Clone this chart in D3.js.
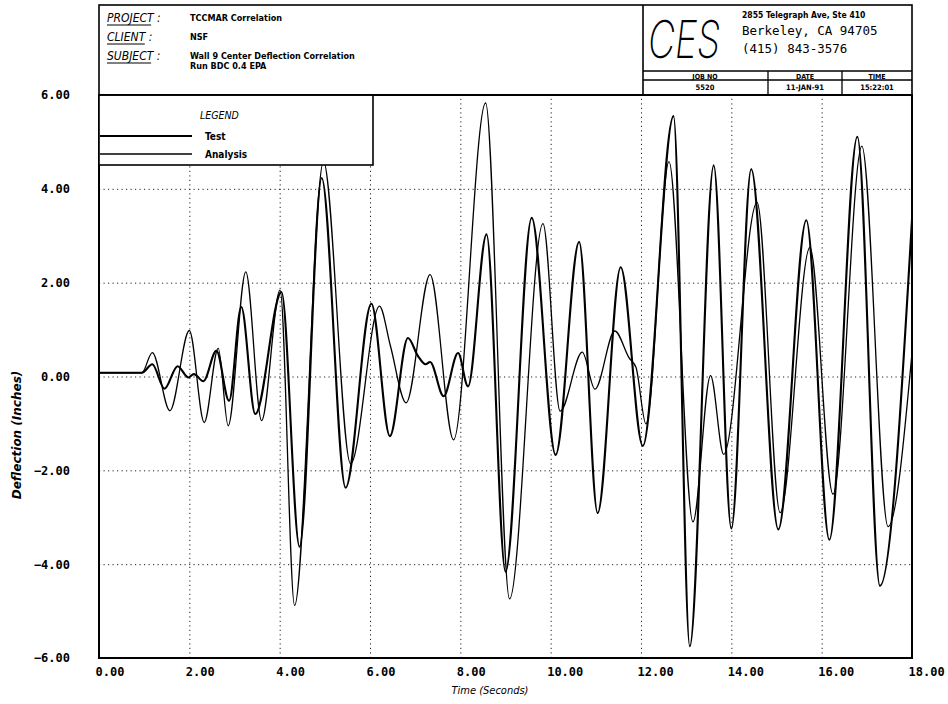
<!DOCTYPE html>
<html>
<head>
<meta charset="utf-8">
<title>Wall 9 Center Deflection Correlation</title>
<script src="https://d3js.org/d3.v7.min.js"></script>
<style>
  body { margin: 0; background: #fff; }
  svg { display: block; }
  text { fill: #000; }
</style>
</head>
<body>
<div id="chart"></div>
<script>
// values (extrema of each trace)
var testTime = [0, 0.95, 1.18, 1.45, 1.74, 1.98, 2.1, 2.31, 2.6, 2.88, 3.15, 3.46, 4.04, 4.44, 4.93,
  5.46, 6.03, 6.44, 6.84, 7.06, 7.23, 7.33, 7.63, 7.95, 8.17, 8.58, 9.0, 9.58, 10.11, 10.63, 11.04,
  11.55, 12.04, 12.72, 13.08, 13.61, 14.0, 14.44, 15.04, 15.66, 16.17, 16.79, 17.29, 18.0];
var testDeflection = [0.08, 0.08, 0.26, -0.26, 0.22, -0.02, 0.05, -0.1, 0.55, -0.52, 1.48, -0.8, 1.8, -3.63, 4.23,
  -2.37, 1.55, -1.27, 0.82, 0.44, 0.26, 0.31, -0.42, 0.5, -0.21, 3.03, -4.16, 3.38, -1.67, 2.87, -2.91,
  2.33, -1.48, 5.55, -5.75, 4.5, -3.24, 4.42, -3.26, 3.33, -3.48, 5.11, -4.46, 3.35];

var analysisTime = [0, 0.95, 1.18, 1.57, 2.0, 2.33, 2.64, 2.86, 3.25, 3.6, 4.01, 4.33, 4.97, 5.57, 6.21,
  6.45, 6.8, 7.33, 7.85, 8.56, 9.09, 9.83, 10.21, 10.7, 10.98, 11.42, 11.74, 11.89, 12.11, 12.62,
  13.15, 13.54, 13.83, 14.57, 15.08, 15.74, 16.25, 16.89, 17.47, 18.0];
var analysisDeflection = [0.08, 0.08, 0.51, -0.73, 0.98, -0.98, 0.6, -1.05, 2.23, -0.94, 1.84, -4.88, 4.58, -1.86, 1.5,
  0.66, -0.56, 2.17, -1.35, 5.83, -4.74, 3.26, -0.74, 0.52, -0.27, 0.97, 0.39, 0.19, -1.01, 4.58,
  -3.1, 0.02, -1.66, 3.71, -2.9, 2.75, -2.51, 4.91, -3.2, 0.5];

var xTicks = [0, 2, 4, 6, 8, 10, 12, 14, 16, 18];
var yTicks = [-6, -4, -2, 0, 2, 4, 6];

var W = 948, H = 704;
var margin = {top: 95, right: 36, bottom: 46, left: 99};
var width = W - margin.left - margin.right;
var height = H - margin.top - margin.bottom;

var monoFont = '"DejaVu Sans Mono", monospace';
var sansFont = '"DejaVu Sans Condensed", "DejaVu Sans", sans-serif';

var svg = d3.select('#chart').append('svg')
  .attr('width', W)
  .attr('height', H)
  .style('background', '#fff');

var xScale = d3.scaleLinear().domain([0, 18]).range([0, width]);
var yScale = d3.scaleLinear().domain([-6, 6]).range([height, 0]);

var plot = svg.append('g')
  .attr('transform', 'translate(' + margin.left + ',' + margin.top + ')');

// dotted grid
var xGrid = plot.append('g')
  .attr('transform', 'translate(0,' + height + ')')
  .call(d3.axisBottom(xScale).tickValues(xTicks.slice(1, -1)).tickSize(-height).tickFormat(''));
var yGrid = plot.append('g')
  .call(d3.axisLeft(yScale).tickValues(yTicks.slice(1, -1)).tickSize(-width).tickFormat(''));
[xGrid, yGrid].forEach(function(g) {
  g.select('.domain').remove();
  g.selectAll('line')
    .style('stroke', '#222')
    .style('stroke-width', 1)
    .style('stroke-dasharray', '1.2,3.3');
});

// curves
var toPoints = function(ts, vs) {
  return ts.map(function(t, i) { return [t, vs[i]]; });
};
var line = d3.line()
  .x(function(d) { return xScale(d[0]); })
  .y(function(d) { return yScale(d[1]); })
  .curve(d3.curveMonotoneX);

plot.append('path')
  .datum(toPoints(analysisTime, analysisDeflection))
  .attr('d', line)
  .style('fill', 'none')
  .style('stroke', '#000')
  .style('stroke-width', 1.3);

plot.append('path')
  .datum(toPoints(testTime, testDeflection))
  .attr('d', line)
  .style('fill', 'none')
  .style('stroke', '#000')
  .style('stroke-width', 2.1);

// frame
plot.append('rect')
  .attr('width', width)
  .attr('height', height)
  .style('fill', 'none')
  .style('stroke', '#000')
  .style('stroke-width', 2);

// tick labels
var yAxis = plot.append('g')
  .call(d3.axisLeft(yScale).tickValues(yTicks).tickSize(0).tickPadding(29).tickFormat(d3.format('.2f')));
yAxis.select('.domain').remove();
yAxis.selectAll('text')
  .style('font-family', monoFont)
  .style('font-weight', 'bold')
  .style('font-size', '12px');

var xAxis = plot.append('g')
  .attr('transform', 'translate(0,' + height + ')')
  .call(d3.axisBottom(xScale).tickValues(xTicks).tickSize(0).tickPadding(9).tickFormat(d3.format('.2f')));
xAxis.select('.domain').remove();
xAxis.selectAll('text')
  .attr('text-anchor', 'start')
  .attr('dx', -4)
  .style('font-family', monoFont)
  .style('font-weight', 'bold')
  .style('font-size', '12px');

// axis titles
svg.append('text')
  .attr('transform', 'translate(21,435) rotate(-90)')
  .attr('text-anchor', 'middle')
  .style('font-family', '"DejaVu Sans", sans-serif')
  .style('font-style', 'italic')
  .style('font-weight', 'bold')
  .style('font-size', '12px')
  .text('Deflection (Inches)');

svg.append('text')
  .attr('x', 490)
  .attr('y', 694)
  .attr('text-anchor', 'middle')
  .style('font-family', sansFont)
  .style('font-style', 'italic')
  .style('font-size', '11px')
  .text('Time (Seconds)');

// legend
var legend = svg.append('g');
legend.append('rect')
  .attr('x', margin.left).attr('y', margin.top)
  .attr('width', 274).attr('height', 70)
  .style('fill', '#fff').style('stroke', '#000').style('stroke-width', 1.6);
legend.append('text')
  .attr('x', 200).attr('y', 119)
  .style('font-family', sansFont).style('font-style', 'italic').style('font-size', '10.5px')
  .text('LEGEND');
[['Test', 136, 2.1], ['Analysis', 154, 1.3]].forEach(function(d) {
  legend.append('line')
    .attr('x1', margin.left + 1).attr('x2', 192)
    .attr('y1', d[1]).attr('y2', d[1])
    .style('stroke', '#000').style('stroke-width', d[2]);
  legend.append('text')
    .attr('x', 205).attr('y', d[1] + 3.5)
    .style('font-family', sansFont).style('font-weight', 'bold').style('font-size', '10px')
    .text(d[0]);
});

// title block
var tb = svg.append('g');
tb.append('rect')
  .attr('x', margin.left).attr('y', 5)
  .attr('width', width).attr('height', margin.top - 5)
  .style('fill', 'none').style('stroke', '#000').style('stroke-width', 1.6);
tb.append('line')
  .attr('x1', 643).attr('x2', 643).attr('y1', 5).attr('y2', margin.top)
  .style('stroke', '#000').style('stroke-width', 1.6);

var heads = [['PROJECT :', 22, 'TCCMAR Correlation'], ['CLIENT :', 41, 'NSF'],
  ['SUBJECT :', 60, 'Wall 9 Center Deflection Correlation']];
heads.forEach(function(h) {
  tb.append('text')
    .attr('x', 107).attr('y', h[1])
    .style('font-family', sansFont).style('font-style', 'italic').style('font-size', '12px')
    .text(h[0]);
  tb.append('line')
    .attr('x1', 107).attr('x2', 107 + (h[0].length - 2) * 6.3)
    .attr('y1', h[1] + 3).attr('y2', h[1] + 3)
    .style('stroke', '#000').style('stroke-width', 1);
  tb.append('text')
    .attr('x', 190).attr('y', h[1] - 1)
    .style('font-family', sansFont).style('font-weight', 'bold').style('font-size', '9px')
    .text(h[2]);
});
tb.append('text')
  .attr('x', 190).attr('y', 69)
  .style('font-family', sansFont).style('font-weight', 'bold').style('font-size', '9px')
  .text('Run BDC 0.4 EPA');

// company block
tb.append('text')
  .attr('x', 648).attr('y', 58)
  .attr('textLength', 72).attr('lengthAdjust', 'spacingAndGlyphs')
  .style('font-family', 'Inter, "DejaVu Sans", sans-serif')
  .style('font-weight', 200).style('font-style', 'italic').style('font-size', '52px')
  .text('CES');
var address = [['2855 Telegraph Ave, Ste 410', 18, sansFont, 'bold', '8.5px'],
  ['Berkeley, CA 94705', 35, monoFont, 'normal', '12.5px'],
  ['(415) 843-3576', 53, monoFont, 'normal', '12.5px']];
address.forEach(function(a) {
  tb.append('text').attr('x', 742).attr('y', a[1])
    .style('font-family', a[2]).style('font-weight', a[3]).style('font-size', a[4])
    .text(a[0]);
});

[71, 80].forEach(function(y) {
  tb.append('line').attr('x1', 643).attr('x2', margin.left + width).attr('y1', y).attr('y2', y)
    .style('stroke', '#000').style('stroke-width', 1.3);
});
[768, 842].forEach(function(x) {
  tb.append('line').attr('x1', x).attr('x2', x).attr('y1', 71).attr('y2', margin.top)
    .style('stroke', '#000').style('stroke-width', 1.3);
});
var cells = [['JOB NO', '5520', 705], ['DATE', '11-JAN-91', 805], ['TIME', '15:22:01', 877]];
cells.forEach(function(c) {
  tb.append('text').attr('x', c[2]).attr('y', 78.5).attr('text-anchor', 'middle')
    .style('font-family', sansFont).style('font-weight', 'bold').style('font-size', '7px')
    .text(c[0]);
  tb.append('text').attr('x', c[2]).attr('y', 90).attr('text-anchor', 'middle')
    .style('font-family', sansFont).style('font-weight', 'bold').style('font-size', '7.5px')
    .text(c[1]);
});
</script>
</body>
</html>
